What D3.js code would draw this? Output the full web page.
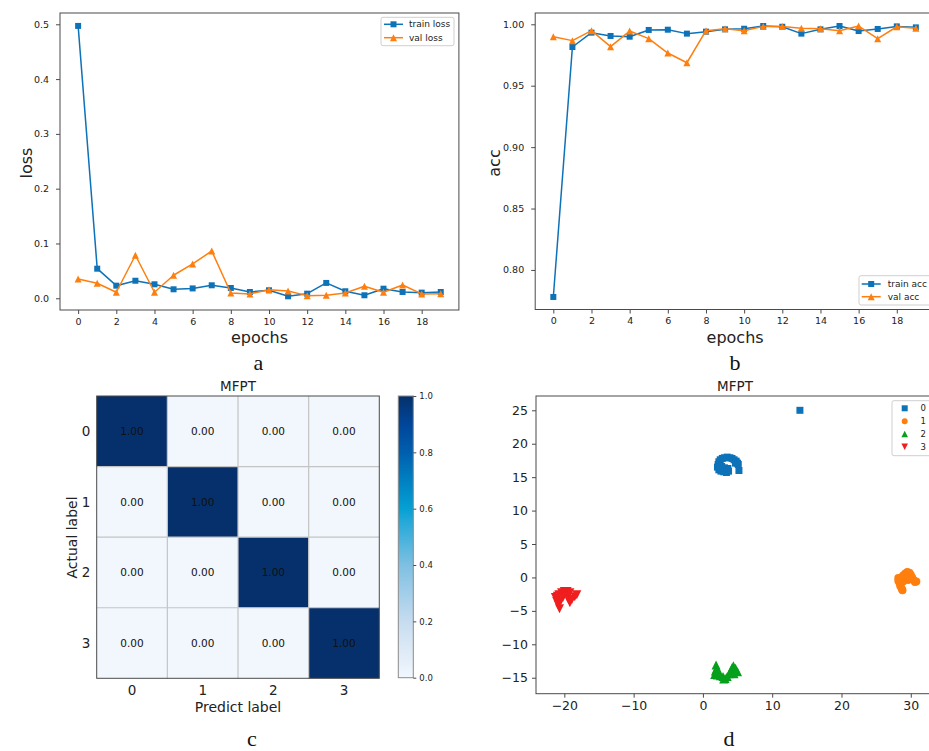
<!DOCTYPE html>
<html>
<head>
<meta charset="utf-8">
<script src="https://cdn.jsdelivr.net/npm/d3@7"></script>
<style>
  html, body { margin: 0; padding: 0; background: #fff; }
  svg { display: block; font-family: "DejaVu Sans", sans-serif; }
</style>
</head>
<body>
<svg id="fig" width="929" height="751"></svg>
<script>
// ---------- data ----------
const epochs = [0,1,2,3,4,5,6,7,8,9,10,11,12,13,14,15,16,17,18,19];
const trainLoss = [0.497,0.054,0.023,0.032,0.0255,0.0164,0.018,0.0237,0.0188,0.0115,0.0146,0.0036,0.0084,0.028,0.0128,0.0055,0.0175,0.0115,0.0103,0.0115];
const valLoss   = [0.0352,0.0274,0.011,0.0785,0.011,0.042,0.0626,0.0863,0.0097,0.0079,0.0157,0.0133,0.0048,0.0054,0.0097,0.0219,0.011,0.0243,0.0079,0.0084];
const trainAcc  = [0.778,0.9815,0.9932,0.9905,0.9899,0.9954,0.9956,0.9924,0.994,0.9959,0.9964,0.9986,0.998,0.9924,0.9959,0.9986,0.9945,0.9962,0.9983,0.9975];
const valAcc    = [0.9899,0.9867,0.9948,0.9818,0.9945,0.9883,0.9766,0.9687,0.9948,0.9964,0.9948,0.9983,0.9983,0.9967,0.9964,0.9948,0.9986,0.9883,0.998,0.9967];
const epochTicks = [0,2,4,6,8,10,12,14,16,18];
const lossTicks = [0.0,0.1,0.2,0.3,0.4,0.5];
const accTicks = [0.80,0.85,0.90,0.95,1.00];

const cmLabels = ["0","1","2","3"];
const confusion = [
  [1.00,0.00,0.00,0.00],
  [0.00,1.00,0.00,0.00],
  [0.00,0.00,1.00,0.00],
  [0.00,0.00,0.00,1.00]
];
const colorbarTicks = [0.0,0.2,0.4,0.6,0.8,1.0];

const class0 = [[14.0,25.0],[2.2,16.9],[2.3,17.3],[2.5,17.6],[2.8,17.8],[3.1,17.9],[3.5,18.0],[3.9,17.9],[4.2,17.8],[4.5,17.6],[4.8,17.4],[5.0,17.1],[5.1,16.9],[2.1,16.5],[2.3,16.1],[2.6,15.9],[3.0,15.8],[3.4,15.7],[3.7,15.9],[3.6,16.3],[3.1,16.4],[2.7,16.6],[5.2,16.0],[4.7,17.1],[2.5,16.3]];
const class1 = [[28.2,-0.1],[28.2,-0.5],[28.4,-0.9],[28.5,-1.3],[28.7,-1.7],[28.8,-1.9],[28.6,0.0],[28.9,0.3],[29.2,0.6],[29.5,0.8],[29.8,0.7],[30.0,0.4],[30.2,0.0],[30.4,-0.4],[30.6,-0.7],[30.8,-0.6],[29.9,-0.2],[29.6,-0.4],[28.9,-0.6]];
const class2 = [[1.9,-13.1],[2.0,-13.6],[1.8,-14.0],[1.7,-14.5],[2.1,-14.6],[2.5,-14.7],[2.9,-14.8],[3.2,-15.1],[3.5,-14.8],[3.8,-14.4],[4.0,-14.0],[4.2,-13.5],[4.4,-13.2],[4.7,-13.6],[5.0,-14.1],[4.5,-14.4],[2.3,-14.1],[3.0,-15.2]];
const class3 = [[-21.3,-3.0],[-21.1,-3.6],[-20.9,-4.1],[-20.7,-4.7],[-20.8,-2.6],[-20.4,-2.3],[-20.0,-2.1],[-19.6,-2.1],[-19.2,-2.3],[-19.6,-2.8],[-19.4,-3.3],[-19.2,-3.8],[-18.9,-3.3],[-18.5,-2.9],[-18.2,-2.6],[-20.2,-3.0],[-20.5,-3.5],[-21.0,-2.8]];
const tsneXTicks = [-20,-10,0,10,20,30];
const tsneYTicks = [-15,-10,-5,0,5,10,15,20,25];

// ---------- styles ----------
const BLUE = "#0d72b8", ORANGE = "#ff7f0e", GREEN = "#06a01c", RED = "#f01e1e";
const SPINE = "#4a4a4a", TEXT = "#222";

const svg = d3.select("#fig");

// marker paths
function squarePath(x, y, s) { return `M${x-s},${y-s}h${2*s}v${2*s}h${-2*s}Z`; }
function triUpPath(x, y, s) { return `M${x},${y-s}L${x+s},${y+s}L${x-s},${y+s}Z`; }
function triDownPath(x, y, s) { return `M${x},${y+s}L${x+s},${y-s}L${x-s},${y-s}Z`; }
function circlePath(x, y, r) { return `M${x-r},${y}a${r},${r} 0 1,0 ${2*r},0a${r},${r} 0 1,0 ${-2*r},0Z`; }

function frame(g, x0, y0, x1, y1) {
  g.append("rect").attr("x", x0).attr("y", y0).attr("width", x1 - x0).attr("height", y1 - y0)
    .attr("fill", "none").attr("stroke", SPINE).attr("stroke-width", 1);
}

// ---------- line panels (a, b) ----------
function linePanel(opt) {
  const g = svg.append("g");
  const x = d3.scaleLinear().domain([-0.95, 19.95]).range([opt.left, opt.right]);
  const y = d3.scaleLinear().domain(opt.yDomain).range([opt.bottom, opt.top]);

  const xAxis = d3.axisBottom(x).tickValues(epochTicks).tickSize(4).tickPadding(4).tickFormat(d3.format("d"));
  const yAxis = d3.axisLeft(y).tickValues(opt.yTicks).tickSize(4).tickPadding(7).tickFormat(opt.yFormat);
  const ax = g.append("g").attr("transform", `translate(0,${opt.bottom})`).call(xAxis);
  const ay = g.append("g").attr("transform", `translate(${opt.left},0)`).call(yAxis);
  [ax, ay].forEach(a => {
    a.select(".domain").remove();
    a.selectAll("line").attr("stroke", SPINE);
    a.selectAll("text").attr("fill", TEXT).attr("font-size", 9.5).attr("font-family", "DejaVu Sans");
  });

  const line = d3.line().x((d, i) => x(epochs[i])).y(d => y(d));
  opt.series.forEach(s => {
    g.append("path").datum(s.values).attr("d", line).attr("fill", "none")
      .attr("stroke", s.color).attr("stroke-width", 1.5).attr("stroke-linejoin", "round");
    g.append("g").selectAll("path").data(s.values).join("path")
      .attr("d", (d, i) => s.marker(x(epochs[i]), y(d), s.size))
      .attr("fill", s.color);
  });

  frame(g, opt.left, opt.top, opt.right, opt.bottom);

  // axis titles
  g.append("text").attr("x", (opt.left + Math.min(opt.right, 929)) / 2 + opt.xLabelShift).attr("y", 343)
    .attr("text-anchor", "middle").attr("font-size", 16).attr("fill", TEXT).text("epochs");
  g.append("text").attr("transform", `translate(${opt.yLabelX},163) rotate(-90)`)
    .attr("text-anchor", "middle").attr("font-size", 16).attr("fill", TEXT).text(opt.yLabel);

  // legend
  const L = opt.legend;
  g.append("rect").attr("x", L.x).attr("y", L.y).attr("width", L.w).attr("height", L.h)
    .attr("rx", 2).attr("fill", "#fff").attr("fill-opacity", 0.85).attr("stroke", "#cfcfcf").attr("stroke-width", 1);
  opt.series.forEach((s, i) => {
    const ry = L.rows[i];
    g.append("line").attr("x1", L.lx0).attr("x2", L.lx1).attr("y1", ry).attr("y2", ry)
      .attr("stroke", s.color).attr("stroke-width", 1.5);
    g.append("path").attr("d", s.marker((L.lx0 + L.lx1) / 2, ry, s.size)).attr("fill", s.color);
    g.append("text").attr("x", L.tx).attr("y", ry).attr("dy", "0.35em")
      .attr("font-size", 9).attr("fill", TEXT).text(s.name);
  });
  return g;
}

linePanel({
  left: 60, right: 458.9, top: 13, bottom: 310,
  yDomain: [-0.0214, 0.5206], yTicks: lossTicks, yFormat: d3.format(".1f"),
  yLabel: "loss", yLabelX: 32, xLabelShift: 0,
  series: [
    { name: "train loss", values: trainLoss, color: BLUE, marker: squarePath, size: 3 },
    { name: "val loss", values: valLoss, color: ORANGE, marker: triUpPath, size: 3.5 }
  ],
  legend: { x: 381, y: 17.3, w: 73, h: 28.4, rows: [24.3, 37.7], lx0: 384, lx1: 403, tx: 409 }
});

linePanel({
  left: 535.2, right: 934, top: 13, bottom: 309.5,
  yDomain: [0.7678, 1.0092], yTicks: accTicks, yFormat: d3.format(".2f"),
  yLabel: "acc", yLabelX: 500, xLabelShift: 3,
  series: [
    { name: "train acc", values: trainAcc, color: BLUE, marker: squarePath, size: 3 },
    { name: "val acc", values: valAcc, color: ORANGE, marker: triUpPath, size: 3.5 }
  ],
  legend: { x: 859, y: 275.7, w: 80, h: 29.3, rows: [284, 296.7], lx0: 861.7, lx1: 880.7, tx: 887.7 }
});

// ---------- confusion matrix (c) ----------
{
  const g = svg.append("g");
  const left = 96.7, right = 379.3, top = 396, bottom = 678.3;
  const x = d3.scaleBand().domain(cmLabels).range([left, right]);
  const y = d3.scaleBand().domain(cmLabels).range([top, bottom]);
  const color = d3.scaleLinear()
    .domain([0, 0.1, 0.2, 0.4, 0.55, 0.6, 0.7, 0.8, 0.9, 1.0])
    .range(["#f1f7fd", "#dde9f6", "#c6dcef", "#7ec0e2", "#27aad9", "#05a0d3", "#0080c2", "#005fae", "#00469a", "#05306b"])
    .interpolate(d3.interpolateRgb);

  const cells = [];
  confusion.forEach((row, i) => row.forEach((v, j) => cells.push({ r: cmLabels[i], c: cmLabels[j], v })));

  g.selectAll("rect.cell").data(cells).join("rect").attr("class", "cell")
    .attr("x", d => x(d.c)).attr("y", d => y(d.r))
    .attr("width", x.bandwidth()).attr("height", y.bandwidth())
    .attr("fill", d => color(d.v));
  // light cell separators
  cmLabels.slice(1).forEach(l => {
    g.append("line").attr("x1", x(l)).attr("x2", x(l)).attr("y1", top).attr("y2", bottom)
      .attr("stroke", "#c4c4c4").attr("stroke-width", 1.2);
    g.append("line").attr("x1", left).attr("x2", right).attr("y1", y(l)).attr("y2", y(l))
      .attr("stroke", "#c4c4c4").attr("stroke-width", 1.2);
  });
  g.selectAll("text.val").data(cells).join("text").attr("class", "val")
    .attr("x", d => x(d.c) + x.bandwidth() / 2).attr("y", d => y(d.r) + y.bandwidth() / 2)
    .attr("dy", "0.35em").attr("text-anchor", "middle").attr("font-size", 10.5).attr("fill", "#111")
    .text(d => d3.format(".2f")(d.v));
  frame(g, left, top, right, bottom);

  g.selectAll("text.xt").data(cmLabels).join("text").attr("class", "xt")
    .attr("x", d => x(d) + x.bandwidth() / 2).attr("y", 695)
    .attr("text-anchor", "middle").attr("font-size", 13.5).attr("fill", TEXT).text(d => d);
  g.selectAll("text.yt").data(cmLabels).join("text").attr("class", "yt")
    .attr("x", 86).attr("y", d => y(d) + y.bandwidth() / 2).attr("dy", "0.35em")
    .attr("text-anchor", "middle").attr("font-size", 13.5).attr("fill", TEXT).text(d => d);

  g.append("text").attr("x", (left + right) / 2).attr("y", 391).attr("text-anchor", "middle")
    .attr("font-size", 13.5).attr("fill", TEXT).text("MFPT");
  g.append("text").attr("x", (left + right) / 2).attr("y", 712).attr("text-anchor", "middle")
    .attr("font-size", 14).attr("fill", TEXT).text("Predict label");
  g.append("text").attr("transform", `translate(76.5,537.5) rotate(-90)`).attr("text-anchor", "middle")
    .attr("font-size", 14).attr("fill", TEXT).text("Actual label");

  // colorbar
  const cbX0 = 398.3, cbX1 = 413.3, cbTop = 396, cbBottom = 677.7;
  const cy = d3.scaleLinear().domain([0, 1]).range([cbBottom, cbTop]);
  const grad = svg.append("defs").append("linearGradient").attr("id", "cbgrad")
    .attr("x1", 0).attr("y1", 1).attr("x2", 0).attr("y2", 0);
  d3.range(0, 1.0001, 0.05).forEach(t => grad.append("stop").attr("offset", t).attr("stop-color", color(t)));
  g.append("rect").attr("x", cbX0).attr("y", cbTop).attr("width", cbX1 - cbX0).attr("height", cbBottom - cbTop)
    .attr("fill", "url(#cbgrad)").attr("stroke", "#8a8a8a").attr("stroke-width", 1);
  const cAxis = d3.axisRight(cy).tickValues(colorbarTicks).tickSize(3).tickPadding(3).tickFormat(d3.format(".1f"));
  const ca = g.append("g").attr("transform", `translate(${cbX1},0)`).call(cAxis);
  ca.select(".domain").remove();
  ca.selectAll("line").attr("stroke", SPINE);
  ca.selectAll("text").attr("font-size", 8.5).attr("fill", TEXT).attr("font-family", "DejaVu Sans");
}

// ---------- t-SNE scatter (d) ----------
{
  const g = svg.append("g");
  const left = 536, top = 396, bottom = 693.7, right = 937.8;
  const x = d3.scaleLinear().domain([-24.09, 33.9]).range([left, right]);
  const y = d3.scaleLinear().domain([-17.39, 27.14]).range([bottom, top]);

  const xAxis = d3.axisBottom(x).tickValues(tsneXTicks).tickSize(4).tickPadding(3.5).tickFormat(d => d3.format("d")(d).replace("-", "\u2212"));
  const yAxis = d3.axisLeft(y).tickValues(tsneYTicks).tickSize(4).tickPadding(4).tickFormat(d => d3.format("d")(d).replace("-", "\u2212"));
  const ax = g.append("g").attr("transform", `translate(0,${bottom})`).call(xAxis);
  const ay = g.append("g").attr("transform", `translate(${left},0)`).call(yAxis);
  [ax, ay].forEach(a => {
    a.select(".domain").remove();
    a.selectAll("line").attr("stroke", SPINE);
    a.selectAll("text").attr("fill", TEXT).attr("font-size", 12.5).attr("font-family", "DejaVu Sans");
  });

  const groups = [
    { name: "0", pts: class0, color: BLUE, marker: squarePath, size: 3.5, legSize: 3 },
    { name: "1", pts: class1, color: ORANGE, marker: circlePath, size: 4, legSize: 3 },
    { name: "2", pts: class2, color: GREEN, marker: triUpPath, size: 4.5, legSize: 3.3 },
    { name: "3", pts: class3, color: RED, marker: triDownPath, size: 4.5, legSize: 3.3 }
  ];
  groups.forEach(s => {
    g.append("g").selectAll("path").data(s.pts).join("path")
      .attr("d", d => s.marker(x(d[0]), y(d[1]), s.size)).attr("fill", s.color);
  });
  frame(g, left, top, right, bottom);

  g.append("text").attr("x", 735).attr("y", 391).attr("text-anchor", "middle")
    .attr("font-size", 13.5).attr("fill", TEXT).text("MFPT");

  // legend
  const rows = [408.3, 421.3, 434, 446.7];
  g.append("rect").attr("x", 892).attr("y", 400.7).attr("width", 45).attr("height", 55)
    .attr("rx", 2).attr("fill", "#fff").attr("stroke", "#cfcfcf").attr("stroke-width", 1);
  groups.forEach((s, i) => {
    g.append("path").attr("d", s.marker(904.7, rows[i], s.legSize)).attr("fill", s.color);
    g.append("text").attr("x", 920.5).attr("y", rows[i]).attr("dy", "0.35em")
      .attr("font-size", 8.5).attr("fill", TEXT).text(s.name);
  });
}

// ---------- panel letters ----------
const panelLetters = [
  { t: "a", x: 258.5, y: 370 },
  { t: "b", x: 735, y: 370 },
  { t: "c", x: 252, y: 746 },
  { t: "d", x: 729, y: 746 }
];
svg.selectAll("text.panel").data(panelLetters).join("text").attr("class", "panel")
  .attr("x", d => d.x).attr("y", d => d.y).attr("text-anchor", "middle")
  .attr("font-family", "Liberation Serif, serif").attr("font-size", 22).attr("fill", "#111")
  .text(d => d.t);
</script>
</body>
</html>
